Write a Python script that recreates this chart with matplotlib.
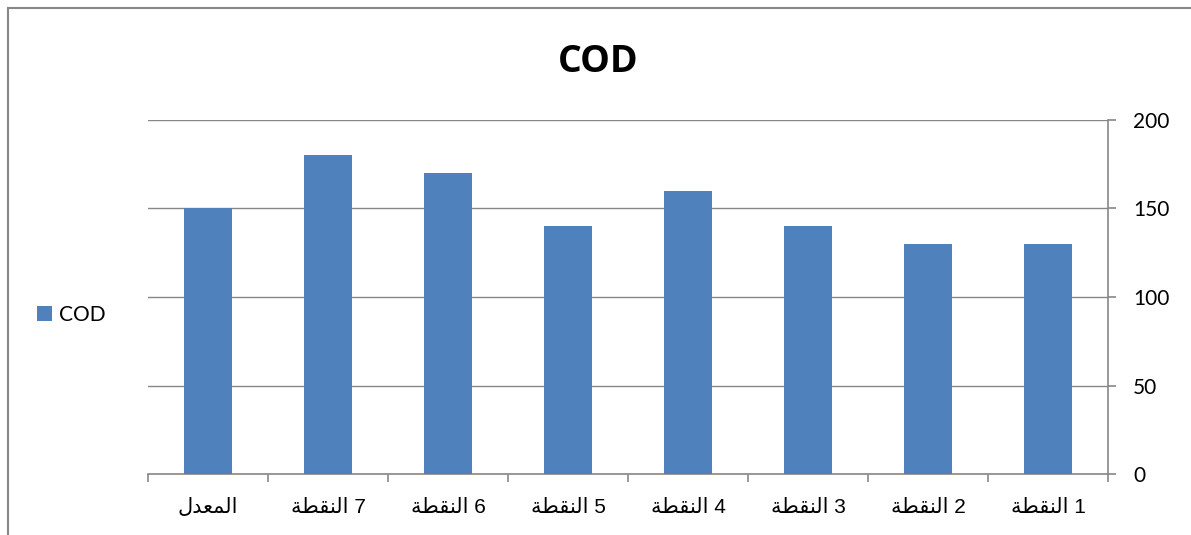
import matplotlib
matplotlib.use("Agg")
from matplotlib import pyplot as plt
from matplotlib.patches import Rectangle

# قيم COD لكل نقطة، مرتبة من اليسار إلى اليمين كما في المحور
categories = ["المعدل", "النقطة 7", "النقطة 6", "النقطة 5",
              "النقطة 4", "النقطة 3", "النقطة 2", "النقطة 1"]
cod_values = [150, 180, 170, 140, 160, 140, 130, 130]
y_ticks = [0, 50, 100, 150, 200]
series_name = "COD"

# أشكال الحروف: (منفصل، نهائي، ابتدائي، وسطي)؛ None = لا يتصل بما بعده
forms = {
    "ا": ("\ufe8d", "\ufe8e", None, None),
    "د": ("\ufea9", "\ufeaa", None, None),
    "ة": ("\ufe93", "\ufe94", None, None),
    "ل": ("\ufedd", "\ufede", "\ufedf", "\ufee0"),
    "ن": ("\ufee5", "\ufee6", "\ufee7", "\ufee8"),
    "ق": ("\ufed5", "\ufed6", "\ufed7", "\ufed8"),
    "ط": ("\ufec1", "\ufec2", "\ufec3", "\ufec4"),
    "م": ("\ufee1", "\ufee2", "\ufee3", "\ufee4"),
    "ع": ("\ufec9", "\ufeca", "\ufecb", "\ufecc"),
}


def shape_word(word):
    out = []
    for i, ch in enumerate(word):
        f = forms[ch]
        prev_joins = i > 0 and forms[word[i - 1]][2] is not None
        next_joins = i < len(word) - 1 and f[2] is not None
        if prev_joins and next_joins:
            out.append(f[3])
        elif prev_joins:
            out.append(f[1])
        elif next_joins:
            out.append(f[2])
        else:
            out.append(f[0])
    return "".join(reversed(out))


def shape_label(text):
    parts = []
    for tok in text.split(" "):
        if tok and tok[0] in forms:
            parts.append(shape_word(tok))
        else:
            parts.append(tok)
    return " ".join(parts)


grey = "#878787"
blue = "#4f81bd"

fig = plt.figure(figsize=(11.91, 5.35), dpi=100)
ax = fig.add_axes([148 / 1191, 61 / 535, 960 / 1191, 354 / 535])

x = list(range(len(categories)))
bars = ax.bar(x, cod_values, width=0.4, color=blue, label=series_name, zorder=3)

ax.set_xlim(-0.5, len(categories) - 0.5)
ax.set_ylim(0, 200)
ax.set_yticks(y_ticks)
ax.yaxis.tick_right()
ax.grid(axis="y", color=grey, lw=1, zorder=0)

for s in ["left", "top"]:
    ax.spines[s].set_visible(False)
for s in ["right", "bottom"]:
    ax.spines[s].set_color(grey)
    ax.spines[s].set_linewidth(1.2)

ax.set_xticks(x)
ax.set_xticklabels([shape_label(c) for c in categories],
                   family=["Liberation Sans", "DejaVu Sans"], fontsize=15)
ax.set_xticks([i - 0.5 for i in range(len(categories) + 1)], minor=True)
ax.tick_params(axis="x", which="major", length=0, pad=17)
ax.tick_params(axis="x", which="minor", length=6, width=1.2, color=grey, direction="out")
ax.tick_params(axis="y", length=6, width=1.2, color=grey, direction="out", pad=12,
               labelsize=15)
for lab in ax.get_yticklabels():
    lab.set_family("Lato")

fig.text(598 / 1191, 1 - 62 / 535, "COD", ha="center", va="center",
         fontsize=27, fontweight="bold", family="Open Sans")

ax.legend(handles=[bars], loc="center left", frameon=False,
          bbox_to_anchor=(18 / 1191, 1 - 315 / 535), bbox_transform=fig.transFigure,
          handlelength=0.75, handleheight=0.75, handletextpad=0.3,
          prop={"family": "Lato", "size": 15})

# إطار المخطط الخارجي
fig.add_artist(Rectangle((8 / 1191, -0.1), 2, 1.1 - 8 / 535, transform=fig.transFigure,
                         fill=False, edgecolor=grey, lw=1.5))

plt.savefig("out.png", dpi=100)
